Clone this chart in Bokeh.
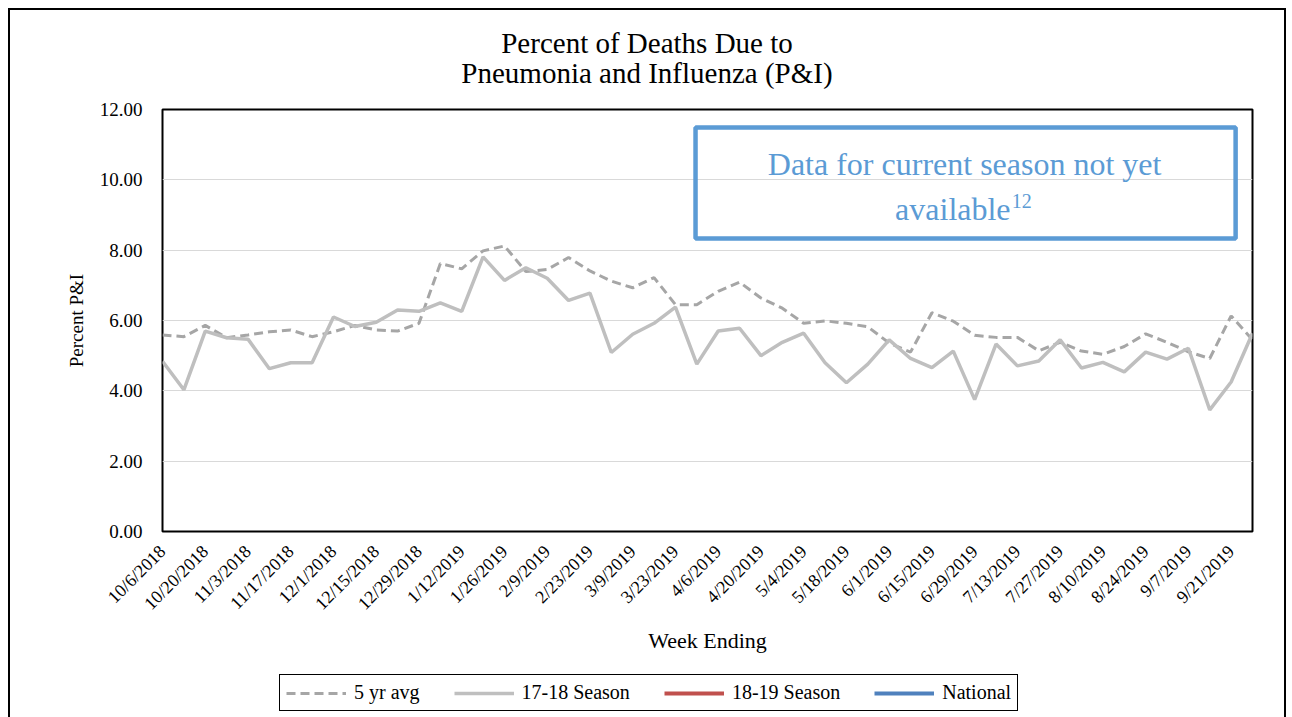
from math import pi
from bokeh.plotting import figure
from bokeh.layouts import column
from bokeh.models import (Range1d, FixedTicker, Legend, LegendItem, Label, Div,
                          BoxAnnotation, NumeralTickFormatter)
from bokeh.embed import file_html
from bokeh.resources import INLINE

NA = float("nan")

weeks = ["10/6/2018", "10/13/2018", "10/20/2018", "10/27/2018", "11/3/2018", "11/10/2018",
         "11/17/2018", "11/24/2018", "12/1/2018", "12/8/2018", "12/15/2018", "12/22/2018",
         "12/29/2018", "1/5/2019", "1/12/2019", "1/19/2019", "1/26/2019", "2/2/2019",
         "2/9/2019", "2/16/2019", "2/23/2019", "3/2/2019", "3/9/2019", "3/16/2019",
         "3/23/2019", "3/30/2019", "4/6/2019", "4/13/2019", "4/20/2019", "4/27/2019",
         "5/4/2019", "5/11/2019", "5/18/2019", "5/25/2019", "6/1/2019", "6/8/2019",
         "6/15/2019", "6/22/2019", "6/29/2019", "7/6/2019", "7/13/2019", "7/20/2019",
         "7/27/2019", "8/3/2019", "8/10/2019", "8/17/2019", "8/24/2019", "8/31/2019",
         "9/7/2019", "9/14/2019", "9/21/2019", "9/28/2019"]

five_yr_avg = [5.59, 5.54, 5.86, 5.51, 5.59, 5.68, 5.73, 5.54, 5.68, 5.86,
               5.73, 5.70, 5.92, 7.62, 7.47, 7.98, 8.12, 7.39, 7.45, 7.79,
               7.41, 7.12, 6.93, 7.22, 6.45, 6.45, 6.83, 7.09, 6.64, 6.35,
               5.92, 5.99, 5.92, 5.82, 5.36, 5.10, 6.22, 5.98, 5.58, 5.52,
               5.52, 5.14, 5.38, 5.13, 5.04, 5.26, 5.62, 5.38, 5.11, 4.92,
               6.13, 5.45]

season_17_18 = [4.84, 4.03, 5.70, 5.51, 5.47, 4.63, 4.80, 4.80, 6.10, 5.83,
                5.95, 6.30, 6.26, 6.50, 6.26, 7.81, 7.14, 7.50, 7.20, 6.57,
                6.78, 5.09, 5.61, 5.92, 6.38, 4.76, 5.70, 5.78, 5.00, 5.38,
                5.64, 4.80, 4.23, 4.76, 5.45, 4.92, 4.66, 5.13, 3.75, 5.33,
                4.71, 4.85, 5.45, 4.65, 4.81, 4.54, 5.10, 4.90, 5.21, 3.46,
                4.25, 5.64]

# current season and national: data not yet available
season_18_19 = [NA] * len(weeks)
national = [NA] * len(weeks)

series_names = ["5 yr avg", "17-18 Season", "18-19 Season", "National"]
series_values = [five_yr_avg, season_17_18, season_18_19, national]
series_colors = ["#A6A6A6", "#BFBFBF", "#C0504D", "#4F81BD"]
series_widths = [3, 3.5, 4, 4]
series_dash = ["9 5", "solid", "solid", "solid"]

y_ticks = [0, 2, 4, 6, 8, 10, 12]
x_idx = list(range(len(weeks)))
label_idx = x_idx[::2]

FONT = "Liberation Serif"

title_div = Div(
    text=('<div style="padding-top:18px;text-align:center;'
          'font-family:\'Liberation Serif\';font-size:29px;line-height:30px;'
          'color:black;width:1274px;">Percent of Deaths Due to<br>'
          'Pneumonia and Influenza (P&amp;I)</div>'),
    width=1274, height=78, margin=0)

p = figure(width=1274, height=583, output_backend="svg", toolbar_location=None,
           title=None,
           x_range=Range1d(0, len(weeks) - 1), y_range=Range1d(0, 12),
           min_border_left=152, min_border_right=32, min_border_top=21,
           min_border_bottom=140)

p.outline_line_color = "black"
p.outline_line_width = 2
p.outline_line_alpha = 1

p.xgrid.visible = False
p.ygrid.grid_line_color = "#D9D9D9"
p.ygrid.grid_line_width = 1
p.ygrid.ticker = FixedTicker(ticks=y_ticks)

p.yaxis.ticker = FixedTicker(ticks=y_ticks)
p.yaxis.formatter = NumeralTickFormatter(format="0.00")
p.xaxis.ticker = FixedTicker(ticks=label_idx)
p.xaxis.major_label_overrides = {i: weeks[i] for i in label_idx}
p.xaxis.major_label_orientation = pi / 4

for ax in (p.xaxis[0], p.yaxis[0]):
    ax.axis_line_color = None
    ax.major_tick_line_color = None
    ax.minor_tick_line_color = None
    ax.major_label_text_font = FONT
    ax.major_label_text_color = "black"
    ax.axis_label_text_font = FONT
    ax.axis_label_text_font_style = "normal"
    ax.axis_label_text_color = "black"

p.yaxis.major_label_text_font_size = "19px"
p.yaxis.major_label_standoff = 14
p.yaxis.axis_label = "Percent P&I"
p.yaxis.axis_label_text_font_size = "19px"
p.yaxis.axis_label_standoff = 10

p.xaxis.major_label_text_font_size = "18px"
p.xaxis.major_label_standoff = 11
p.xaxis.axis_label = "Week Ending"
p.xaxis.axis_label_text_font_size = "22px"
p.xaxis.axis_label_standoff = 4

for vals, col, w, d in zip(series_values, series_colors, series_widths, series_dash):
    p.line(x_idx, vals, line_color=col, line_width=w, line_dash=d)

# note box
p.add_layout(BoxAnnotation(left=24.94, right=50.21, top=11.49, bottom=8.33,
                           fill_alpha=0, line_color="#5B9BD5", line_alpha=1,
                           line_width=4.5))
p.add_layout(Label(x=37.53, y=10.46, text="Data for current season not yet",
                   text_align="center", text_baseline="middle", text_font=FONT,
                   text_font_size="32px", text_color="#5B9BD5"))
p.add_layout(Label(x=39.68, y=9.18, text="available",
                   text_align="right", text_baseline="middle", text_font=FONT,
                   text_font_size="32px", text_color="#5B9BD5"))
p.add_layout(Label(x=39.73, y=9.41, text="12",
                   text_align="left", text_baseline="middle", text_font=FONT,
                   text_font_size="20px", text_color="#5B9BD5"))

# legend strip (separate figure under the chart; its series are out of view)
lf = figure(width=1274, height=46, output_backend="svg", toolbar_location=None,
            title=None, x_range=Range1d(0, len(weeks) - 1), y_range=Range1d(100, 101),
            x_axis_location=None, y_axis_location=None, min_border=0)
lf.xgrid.visible = False
lf.ygrid.visible = False
lf.outline_line_color = None

items = []
for name, vals, col, w, d in zip(series_names, series_values, series_colors,
                                 series_widths, series_dash):
    r = lf.line(x_idx, vals, line_color=col, line_width=w, line_dash=d)
    items.append(LegendItem(label=name, renderers=[r]))

legend = Legend(items=items, orientation="horizontal", location=(117, 6),
                border_line_color="black", border_line_width=1.5, border_line_alpha=1,
                background_fill_color="white",
                label_text_font=FONT, label_text_font_size="20px", label_text_color="black",
                glyph_width=60, glyph_height=20, label_standoff=8, spacing=34,
                padding=6, margin=0)
lf.add_layout(legend, "center")

layout = column(title_div, p, lf, spacing=0,
                styles={"border-top": "2px solid black", "border-left": "2px solid black",
                        "border-right": "2px solid black", "margin": "8px 0 0 8px"})

open("out.html", "w").write(file_html(layout, INLINE))
